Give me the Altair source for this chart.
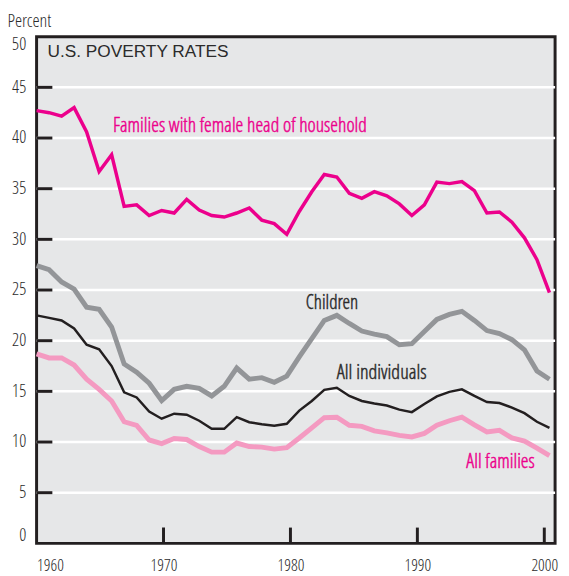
import altair as alt
import pandas as pd

# ---- data ----
years = list(range(1959, 2001))
female_head = [42.7, 42.5, 42.15, 43.0, 40.6, 36.7, 38.35, 33.25, 33.4, 32.35,
               32.85, 32.6, 33.95, 32.9, 32.35, 32.2, 32.6, 33.1, 31.9, 31.55,
               30.5, 32.75, 34.7, 36.4, 36.15, 34.55, 34.05, 34.7, 34.3, 33.5,
               32.35, 33.4, 35.65, 35.5, 35.7, 34.8, 32.6, 32.7, 31.7, 30.15,
               28.0, 24.75]
children = [27.4, 27.0, 25.8, 25.1, 23.3, 23.1, 21.35, 17.7, 16.9, 15.8,
            14.1, 15.2, 15.5, 15.3, 14.55, 15.5, 17.3, 16.2, 16.35, 15.9,
            16.5, 18.4, 20.2, 22.0, 22.5, 21.7, 20.95, 20.65, 20.4, 19.6,
            19.7, 20.9, 22.1, 22.6, 22.9, 22.0, 21.0, 20.7, 20.1, 19.1,
            17.0, 16.2]
individuals = [22.5, 22.25, 22.0, 21.2, 19.6, 19.15, 17.5, 14.9, 14.4, 13.0,
               12.3, 12.8, 12.7, 12.1, 11.3, 11.3, 12.45, 11.95, 11.75, 11.6,
               11.8, 13.1, 14.05, 15.15, 15.35, 14.55, 14.05, 13.8, 13.6, 13.2,
               12.95, 13.75, 14.5, 14.95, 15.2, 14.55, 13.95, 13.85, 13.4, 12.85,
               12.0, 11.4]
families = [18.7, 18.3, 18.3, 17.6, 16.2, 15.2, 14.05, 12.0, 11.65, 10.2,
            9.85, 10.35, 10.25, 9.55, 9.0, 9.0, 9.9, 9.55, 9.5, 9.3,
            9.45, 10.4, 11.4, 12.4, 12.45, 11.65, 11.55, 11.1, 10.9, 10.65,
            10.5, 10.85, 11.65, 12.1, 12.45, 11.7, 11.0, 11.15, 10.4, 10.1,
            9.4, 8.65]

y_ticks = [0, 5, 10, 15, 20, 25, 30, 35, 40, 45, 50]
x_ticks = [1960, 1970, 1980, 1990, 2000]

W, H = 526, 514
NARROW = "Open Sans Condensed Light, Roboto Condensed, DejaVu Sans Condensed, sans-serif"
DARK = "#231f20"
TEXT = "#2b2b2b"
MAGENTA = "#ec008c"
PINK = "#f49ac1"
GRAY = "#939598"

yscale = alt.Scale(domain=[0, 50], nice=False, zero=True)
xscale_data = alt.Scale(domain=[1959, 2000.45], nice=False, zero=False)
xscale_axis = alt.Scale(domain=[1960, 2000.85], nice=False, zero=False)

y_axis = alt.Axis(values=y_ticks, title="Percent", titleAngle=0, titleX=-30, titleY=-10,
                  titleAlign="left", titleBaseline="alphabetic", titleFont=NARROW,
                  titleFontSize=18.5, titleFontWeight="normal", titleColor=TEXT,
                  grid=False, ticks=False, tickSize=0, domain=False, labelPadding=11,
                  labelFlush=True, labelFlushOffset=1, labelFont=NARROW, labelFontSize=18,
                  labelColor=TEXT)


def line(vals, color, width):
    df = pd.DataFrame({"year": years, "value": vals})
    return alt.Chart(df).mark_line(color=color, strokeWidth=width, strokeJoin="miter").encode(
        x=alt.X("year:Q", scale=xscale_data, axis=None),
        y=alt.Y("value:Q", scale=yscale, axis=y_axis),
    )


grid = alt.Chart(pd.DataFrame({"value": y_ticks[1:-1]})).mark_rule(color="white", strokeWidth=2.5).encode(
    y=alt.Y("value:Q", scale=yscale, axis=y_axis), x=alt.value(0), x2=alt.value(W)
)

lines = alt.layer(
    line(female_head, MAGENTA, 3.5),
    line(children, GRAY, 5),
    line(individuals, DARK, 2.5),
    line(families, PINK, 5),
)

xt = alt.Chart(pd.DataFrame({"t": x_ticks[1:]})).mark_tick(
    orient="vertical", size=16, thickness=3, color=DARK, opacity=1
).encode(
    x=alt.X("t:Q", scale=xscale_axis,
            axis=alt.Axis(values=x_ticks, orient="bottom", title=None, format="d", grid=False,
                          ticks=False, tickSize=0, domain=False, labelPadding=15,
                          labelFont=NARROW, labelFontSize=17, labelColor=TEXT)),
    y=alt.value(H - 8),
)

yt = alt.Chart(pd.DataFrame({"value": y_ticks[1:-1]})).mark_tick(
    orient="horizontal", size=16, thickness=3, color=DARK, opacity=1
).encode(
    y=alt.Y("value:Q", scale=yscale, axis=y_axis),
    x=alt.value(8),
)


def label(text, x, y, color, font=NARROW, size=19.5, stroke=0.45):
    return alt.Chart(pd.DataFrame({"t": [text]})).mark_text(
        align="left", baseline="alphabetic", font=font, fontSize=size, color=color,
        stroke=color, strokeWidth=stroke
    ).encode(x=alt.value(x), y=alt.value(y), text="t:N")


texts = alt.layer(
    label("U.S. POVERTY RATES", 11, 20.5, TEXT, font="Liberation Sans, Arial, sans-serif", size=17.5, stroke=0),
    label("Families with female head of household", 77.5, 96.5, MAGENTA, size=20),
    label("Children", 273, 276, TEXT),
    label("All individuals", 304.5, 347, TEXT, size=20.5),
    label("All families", 436, 437.5, MAGENTA, size=20),
)

chart = alt.layer(grid, lines, xt, yt, texts).resolve_scale(x="independent").properties(
    width=W, height=H,
    autosize=alt.AutoSizeParams(type="none"),
    padding={"left": 29, "top": 25, "right": 6, "bottom": 28},
    background="white",
).configure_view(fill="#e6e7e8", stroke=DARK, strokeWidth=3)

chart.save("out.html", embed_options={"renderer": "svg", "actions": False})
